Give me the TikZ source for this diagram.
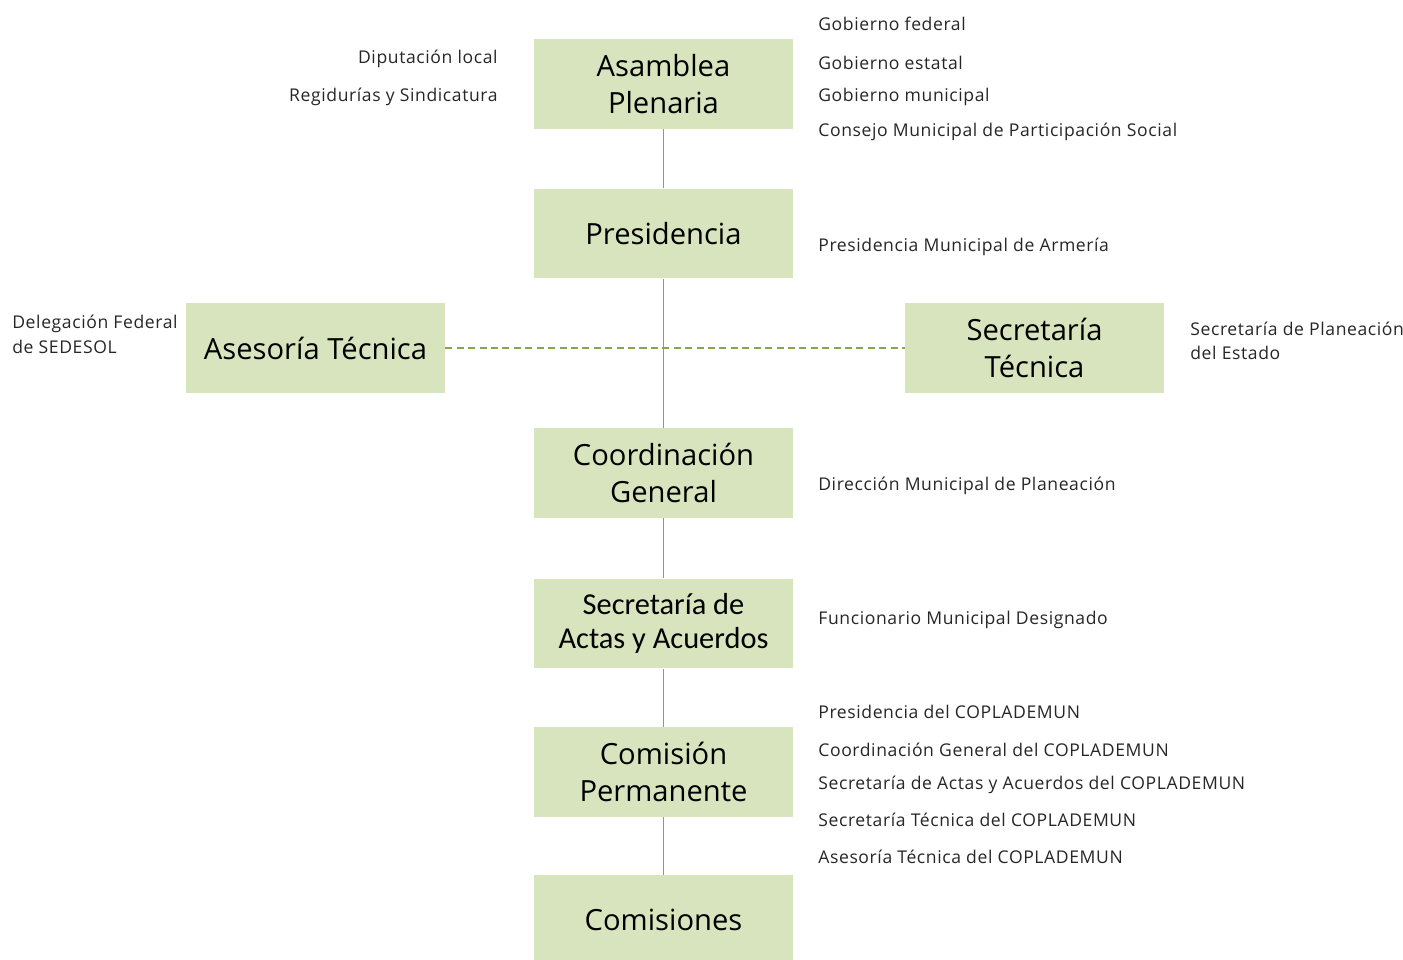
\documentclass[tikz,border=0pt]{standalone}
\usepackage{fontspec}
\setmainfont{Open Sans}
\newfontfamily\carlito{Carlito}
\newfontfamily\sidefont[LetterSpace=3.4]{Open Sans}
\usepackage{xcolor}
\usepackage{tikz}
\definecolor{boxgreen}{HTML}{D7E4BD}
\definecolor{linegreen}{HTML}{86A84A}
\definecolor{labelgray}{HTML}{262626}

\begin{document}
\begin{tikzpicture}[x=0.02cm,y=-0.02cm,
    orgbox/.style={fill=boxgreen,draw=none,text=black,minimum width=5.18cm,minimum height=1.8cm,inner sep=0pt,align=center,font=\fontsize{16.6}{21.5}\selectfont},
    actbox/.style={orgbox,font=\carlito\fontsize{17.3}{19.5}\selectfont},
    side/.style={text=labelgray,inner sep=0pt,font=\sidefont\fontsize{10}{14}\selectfont},
    link/.style={draw=linegreen,line width=1pt},
    dashlink/.style={link,line width=0.8pt,dashed,dash pattern=on 4pt off 2.5pt}]
                    \useasboundingbox (0,0) rectangle (1403,960);
                    \begin{scope}
                    \clip (0,0) rectangle (1403,960);
                    \node[orgbox] (AP) at (663.5,84) {Asamblea\\Plenaria};
                    \node[orgbox] (PR) at (663.5,233.5) {Presidencia};
                    \node[orgbox] (AT) at (315.5,348) {Asesoría Técnica};
                    \node[orgbox] (ST) at (1034.5,348) {Secretaría\\Técnica};
                    \node[orgbox] (CG) at (663.5,473) {Coordinación\\General};
                    \node[actbox] (SA) at (663.5,623.5) {Secretaría de\\Actas y Acuerdos};
                    \node[orgbox] (CP) at (663.5,772) {Comisión\\Permanente};
                    \node[orgbox] (CO) at (663.5,920) {Comisiones};
                    \end{scope}

                    \draw[dashlink] (AT) -- (ST);
                    \draw[link] (AP) -- (PR);
                    \draw[link] (PR) -- (CG);
                    \draw[link] (CG) -- (SA);
                    \draw[link] (SA) -- (CP);
                    \draw[link] (CP) -- (CO);

                    \node[side,anchor=west] (gf) at (818,24) {Gobierno federal};
                    \node[side,anchor=west] (ge) at (818,63) {Gobierno estatal};
                    \node[side,anchor=west] (gm) at (818,97) {Gobierno municipal};
                    \node[side,anchor=west] (cm) at (818,132) {Consejo Municipal de Participación Social};
                    \node[side,anchor=east] (dl) at (498,59) {Diputación local};
                    \node[side,anchor=east] (rs) at (498,97) {Regidurías y Sindicatura};
                    \node[side,anchor=west] (pm) at (818,247) {Presidencia Municipal de Armería};
                    \node[side,anchor=west,align=left] (df) at (12,334.5) {Delegación Federal\\de SEDESOL};
                    \node[side,anchor=west,align=left] (sp) at (1190,341) {Secretaría de Planeación\\del Estado};
                    \node[side,anchor=west] (dm) at (818,486) {Dirección Municipal de Planeación};
                    \node[side,anchor=west] (fm) at (818,620) {Funcionario Municipal Designado};
                    \node[side,anchor=west] (pc) at (818,712) {Presidencia del COPLADEMUN};
                    \node[side,anchor=west] (cc) at (818,750) {Coordinación General del COPLADEMUN};
                    \node[side,anchor=west] (sc) at (818,785) {Secretaría de Actas y Acuerdos del COPLADEMUN};
                    \node[side,anchor=west] (tc) at (818,820) {Secretaría Técnica del COPLADEMUN};
                    \node[side,anchor=west] (ac) at (818,857) {Asesoría Técnica del COPLADEMUN};
                 \end{tikzpicture}
\end{document}
